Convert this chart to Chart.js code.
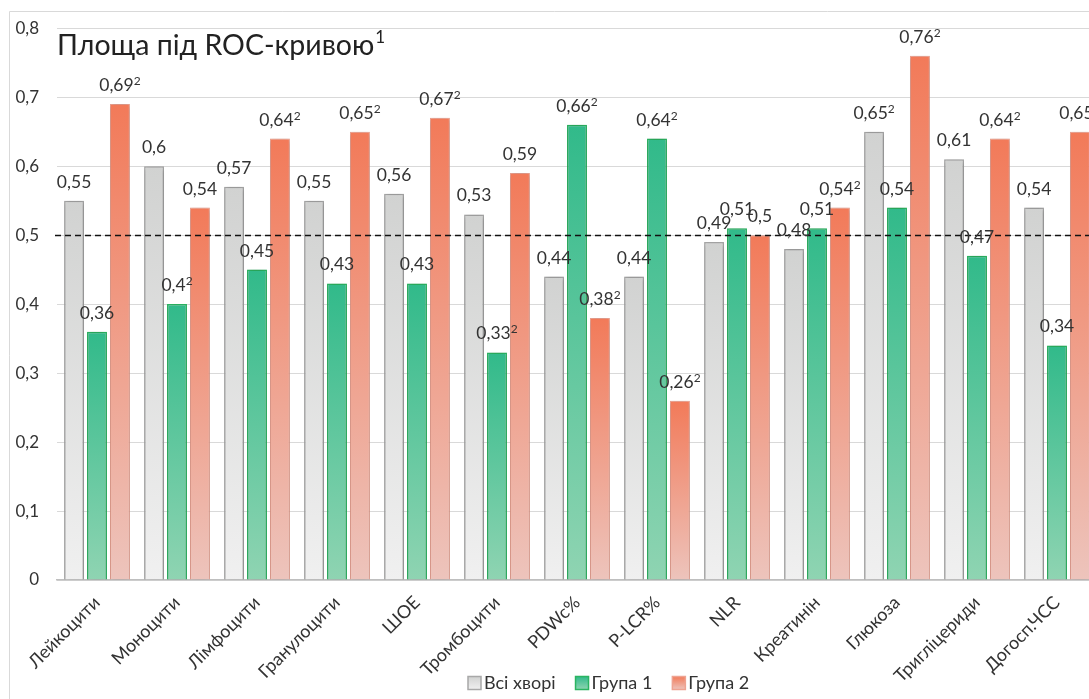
<!DOCTYPE html>
<html>
<head>
<meta charset="utf-8">
<script src="https://cdn.jsdelivr.net/npm/chart.js@4"></script>
<style>
  html, body { margin: 0; padding: 0; background: #fff; overflow: hidden; }
  #wrap { width: 1100px; height: 699px; }
</style>
</head>
<body>
<div id="wrap"><canvas id="grafikRoc" width="1100" height="699"></canvas></div>
<script>
const kategorii = ['Лейкоцити', 'Моноцити', 'Лімфоцити', 'Гранулоцити', 'ШОЕ', 'Тромбоцити',
  'PDWc%', 'P-LCR%', 'NLR', 'Креатинін', 'Глюкоза', 'Тригліцериди', 'Догосп.ЧСС']

const vsiHvori = [0.55, 0.6, 0.57, 0.55, 0.56, 0.53, 0.44, 0.44, 0.49, 0.48, 0.65, 0.61, 0.54]
const grupa1 = [0.36, 0.4, 0.45, 0.43, 0.43, 0.33, 0.66, 0.64, 0.51, 0.51, 0.54, 0.47, 0.34]
const grupa2 = [0.69, 0.54, 0.64, 0.65, 0.67, 0.59, 0.38, 0.26, 0.5, 0.54, 0.76, 0.64, 0.65]

// позначка "2" біля значення
const znakVsi = [0, 0, 0, 0, 0, 0, 0, 0, 0, 0, 1, 0, 0]
const znak1 = [0, 1, 0, 0, 0, 1, 1, 1, 0, 0, 0, 0, 0]
const znak2 = [1, 0, 1, 1, 1, 0, 1, 1, 0, 1, 1, 1, 1]

const yTicks = [0, 0.1, 0.2, 0.3, 0.4, 0.5, 0.6, 0.7, 0.8]
const porig = 0.5
const nazva = 'Площа під ROC-кривою'

const shrift = 'Lato'
const tekstKolir = '#333'

// кольори: верх, низ, рамка
const kolory = [
  ['#d1d2d1', '#f0f0f0', '#a8a8a8'],
  ['#31ba8a', '#8fd4b2', '#2bb461'],
  ['#f27a59', '#edc4bc', '#eea392']
]

function gradientStovpchyka(verh, niz) {
  return (context) => {
    const chart = context.chart
    if (!chart.chartArea || context.type !== 'data') return verh
    const y = chart.scales.y
    const top = y.getPixelForValue(context.raw)
    const bottom = y.getPixelForValue(0)
    if (!isFinite(top) || bottom - top < 1) return verh
    const g = chart.ctx.createLinearGradient(0, top, 0, bottom)
    g.addColorStop(0, verh)
    g.addColorStop(1, niz)
    return g
  }
}

function formatZnach(v) {
  return String(v).replace('.', ',')
}

const pidpysy = {
  id: 'pidpysy',
  beforeDraw(chart) {
    const c = chart.ctx
    c.save()
    c.strokeStyle = '#d9d9d9'
    c.lineWidth = 1
    c.beginPath()
    c.moveTo(9.5, chart.height)
    c.lineTo(9.5, 11.5)
    c.lineTo(chart.width, 11.5)
    c.stroke()
    c.restore()
  },
  beforeDatasetsDraw(chart) {
    const c = chart.ctx
    c.save()
    c.shadowColor = 'rgba(0,0,0,0.32)'
    c.shadowBlur = 5
    c.shadowOffsetX = 0
    c.shadowOffsetY = 1
  },
  afterDatasetsDraw(chart) {
    const c = chart.ctx
    c.restore()
    const area = chart.chartArea
    const y = chart.scales.y

    // лінія 0,5
    c.save()
    c.strokeStyle = '#111'
    c.lineWidth = 1.5
    c.setLineDash([6, 4])
    const yp = Math.round(y.getPixelForValue(porig)) + 0.5
    c.beginPath()
    c.moveTo(area.left - 2, yp)
    c.lineTo(area.right, yp)
    c.stroke()
    c.restore()

    // значення над стовпчиками
    const znaky = [znakVsi, znak1, znak2]
    c.save()
    c.fillStyle = tekstKolir
    c.textBaseline = 'alphabetic'
    chart.data.datasets.forEach((ds, i) => {
      const meta = chart.getDatasetMeta(i)
      meta.data.forEach((bar, j) => {
        const txt = formatZnach(ds.data[j])
        c.font = '17.5px ' + shrift
        const w1 = c.measureText(txt).width
        c.font = '12px ' + shrift
        const w2 = znaky[i][j] ? c.measureText('2').width : 0
        const x0 = bar.x - (w1 + w2) / 2
        const base = bar.y - 13
        c.font = '17.5px ' + shrift
        c.textAlign = 'left'
        c.fillText(txt, x0, base)
        if (znaky[i][j]) {
          c.font = '12px ' + shrift
          c.fillText('2', x0 + w1, base - 6)
        }
      })
    })

    // заголовок
    c.font = '28.5px ' + shrift
    c.fillStyle = '#222'
    c.textAlign = 'left'
    const tx = area.left
    const ty = 55
    c.fillText(nazva, tx, ty)
    const tw = c.measureText(nazva).width
    c.font = '17px ' + shrift
    c.fillText('1', tx + tw + 1, ty - 12)

    // легенда
    c.font = '18px ' + shrift
    c.textBaseline = 'middle'
    let lx = 468
    const ly = 683
    chart.data.datasets.forEach((ds, i) => {
      const g = c.createLinearGradient(0, ly - 6.5, 0, ly + 6.5)
      g.addColorStop(0, kolory[i][0])
      g.addColorStop(1, kolory[i][1])
      c.fillStyle = g
      c.fillRect(lx, ly - 6.5, 13, 13)
      c.strokeStyle = kolory[i][2]
      c.lineWidth = 1.5
      c.strokeRect(lx, ly - 6.5, 13, 13)
      c.fillStyle = tekstKolir
      c.fillText(ds.label, lx + 16, ly)
      lx += 16 + c.measureText(ds.label).width + 20
    })
    c.restore()
  }
}

const grafik = new Chart(document.querySelector('#grafikRoc'), {
  type: 'bar',
  data: {
    labels: kategorii,
    datasets: [{
      label: 'Всі хворі',
      data: vsiHvori,
      backgroundColor: gradientStovpchyka(kolory[0][0], kolory[0][1]),
      borderColor: kolory[0][2],
      borderWidth: 1.5
    }, {
      label: 'Група 1',
      data: grupa1,
      backgroundColor: gradientStovpchyka(kolory[1][0], kolory[1][1]),
      borderColor: kolory[1][2],
      borderWidth: 1.5
    }, {
      label: 'Група 2',
      data: grupa2,
      backgroundColor: gradientStovpchyka(kolory[2][0], kolory[2][1]),
      borderColor: kolory[2][2],
      borderWidth: 1
    }]
  },
  options: {
    responsive: false,
    animation: false,
    categoryPercentage: 0.86,
    barPercentage: 0.87,
    layout: { padding: { top: 28, right: 3, left: 0, bottom: 0 } },
    plugins: {
      tooltip: { enabled: false },
      legend: { display: false }
    },
    scales: {
      x: {
        grid: { display: false },
        border: { display: true, color: '#bfbfbf', width: 1.5 },
        ticks: {
          color: tekstKolir,
          font: { family: shrift, size: 18 },
          minRotation: 45,
          maxRotation: 45,
          padding: 4
        },
        afterFit(scale) {
          scale.height = scale.chart.height - 580
        }
      },
      y: {
        min: 0,
        max: 0.8,
        afterBuildTicks(scale) {
          scale.ticks = yTicks.map(v => ({ value: v }))
        },
        grid: { color: '#d9d9d9', drawTicks: false },
        border: { display: false },
        ticks: {
          color: tekstKolir,
          font: { family: shrift, size: 17 },
          padding: 18,
          callback: (v) => formatZnach(v)
        },
        afterFit(scale) {
          scale.width = 57
        }
      }
    }
  },
  plugins: [pidpysy]
})
</script>
</body>
</html>
